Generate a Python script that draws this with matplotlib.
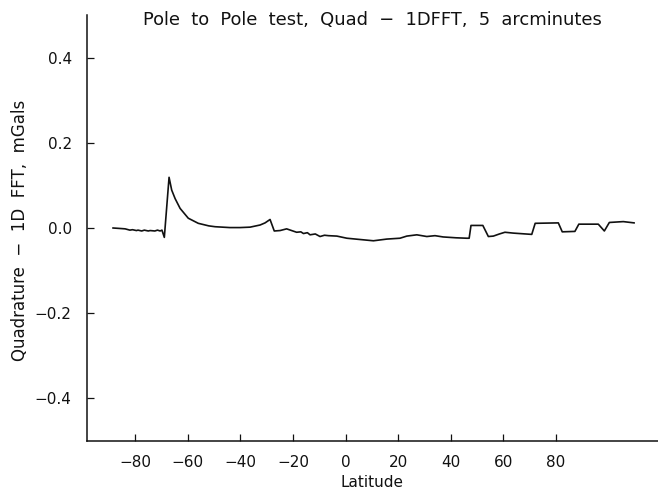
import matplotlib
matplotlib.use("Agg")
import matplotlib.pyplot as plt

latitude = [-88.4, -86.0, -83.8, -82.0, -81.0, -79.5, -78.9, -77.5, -76.5, -75.0,
            -74.3, -72.5, -71.5, -70.5, -69.8,
            -68.9, -67.1, -66.1, -64.8, -62.9, -59.8, -56.0, -52.0, -49.6, -44.0,
            -40.1, -36.3, -32.5, -30.6, -28.7, -27.1, -24.9, -22.4, -20.5, -18.6,
            -17.0, -16.0, -14.5, -13.5, -11.5, -9.7, -8.0, -6.5, -3.3, 0.5, 5.5, 10.6, 15.7,
            20.7, 23.3, 27.1, 30.9, 34.0, 37.1, 42.0, 46.1, 47.0, 47.7, 52.2,
            54.3, 56.2, 58.5, 60.6, 63.8, 70.8, 72.1, 80.9, 82.4, 87.2, 88.7,
            96.1, 98.4, 100.3, 105.6, 109.7]
quad_minus_fft = [0.000, -0.001, -0.002, -0.005, -0.004, -0.006, -0.005, -0.007, -0.005, -0.007,
                  -0.006, -0.007, -0.005, -0.007, -0.005,
                  -0.022, 0.119, 0.089, 0.069, 0.046, 0.023, 0.011, 0.005, 0.003, 0.001,
                  0.001, 0.002, 0.007, 0.012, 0.020, -0.007, -0.006, -0.002, -0.006, -0.010,
                  -0.009, -0.013, -0.011, -0.016, -0.014, -0.020, -0.017, -0.018, -0.019, -0.024, -0.027, -0.030, -0.026,
                  -0.024, -0.019, -0.016, -0.020, -0.018, -0.021, -0.023, -0.024, -0.024, 0.006, 0.006,
                  -0.020, -0.019, -0.014, -0.010, -0.012, -0.015, 0.011, 0.012, -0.009, -0.008, 0.009,
                  0.009, -0.007, 0.013, 0.015, 0.012]

x_ticks = [-80, -60, -40, -20, 0, 20, 40, 60, 80]
y_ticks = [-0.4, -0.2, 0.0, 0.2, 0.4]

title = "Pole  to  Pole  test,  Quad  \u2212  1DFFT,  5  arcminutes"
xlabel = "Latitude"
ylabel = "Quadrature  \u2212  1D  FFT,  mGals"

plt.rcParams['font.family'] = ['DejaVu Sans']
W, H = 658, 494
ink = '#111111'
fig = plt.figure(figsize=(W / 100, H / 100), dpi=100)
ax = fig.add_axes([87 / W, 1 - 441 / H, (W - 87) / W, (441 - 15) / H])

ax.plot(latitude, quad_minus_fft, color=ink, lw=1.2)

ax.set_xlim(-98.3, 118.8)
ax.set_ylim(-0.5, 0.5)
ax.set_xticks(x_ticks)
ax.set_xticklabels([f"{v:d}".replace('-', '\u2212') for v in x_ticks])
ax.set_yticks(y_ticks)
ax.set_yticklabels([f"{v:.1f}".replace('-', '\u2212') for v in y_ticks])

for s in ['top', 'right']:
    ax.spines[s].set_visible(False)
for s in ['left', 'bottom']:
    ax.spines[s].set_linewidth(1.1)
    ax.spines[s].set_color(ink)

ax.tick_params(axis='both', direction='in', length=5, width=0.9, colors=ink,
               labelsize=11, labelcolor=ink)
ax.tick_params(axis='y', pad=11)
ax.tick_params(axis='x', pad=10)

ax.set_xlabel(xlabel, fontsize=11, color=ink, labelpad=4)
ax.set_ylabel(ylabel, fontsize=12, color=ink)
ax.yaxis.label.set_va('center')
ax.yaxis.set_label_coords((20 - 87) / (W - 87), (441 - 230) / (441 - 15))

fig.text((87 + W) / 2 / W, 1 - 20 / H, title, ha='center', va='center',
         fontsize=12.9, color=ink)

fig.savefig("out.png", dpi=100)
